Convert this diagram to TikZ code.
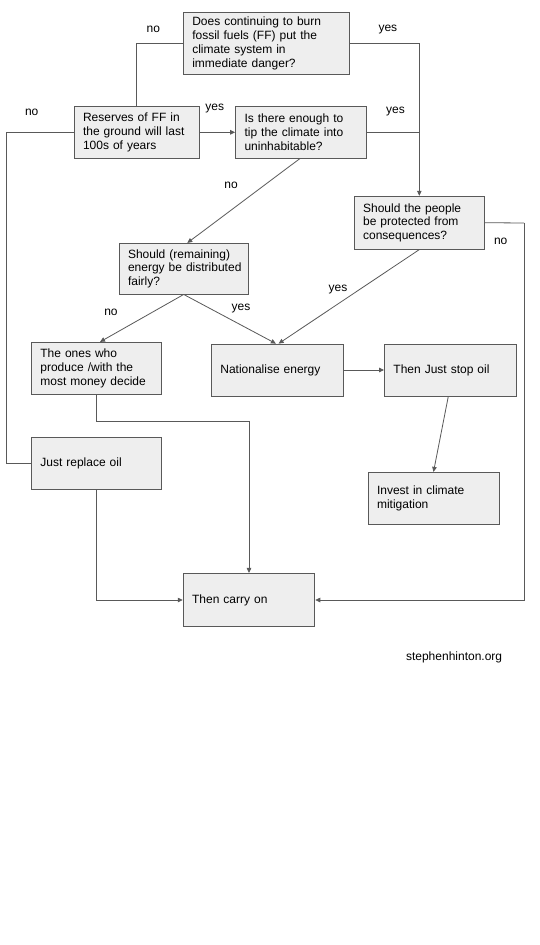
\documentclass[tikz,border=0pt]{standalone}
\usepackage{fontspec}
\setmainfont{Liberation Sans}
\usetikzlibrary{arrows.meta,calc}
\definecolor{boxfill}{HTML}{EEEEEE}
\definecolor{edgec}{HTML}{595959}
\definecolor{txtc}{HTML}{000000}
\begin{document}
\begin{tikzpicture}[x=1pt,y=-1pt,
  box/.style={draw=edgec, fill=boxfill, line width=0.8pt, align=left, inner xsep=9pt, inner ysep=0pt, text=txtc, font=\fontsize{12}{13.8}\selectfont, execute at begin node={\hyphenpenalty=10000\exhyphenpenalty=10000}},
  lbl/.style={font=\fontsize{12}{13.8}\selectfont, inner sep=0pt, text=txtc},
  conn/.style={draw=edgec, line width=0.8pt},
  arr/.style={conn, -{Triangle[length=5pt,width=4.5pt]}}]
\fill[white] (0,0) rectangle (540,945);
\useasboundingbox (0,0) rectangle (540,945);

% boxes
\node[box, minimum width=166pt, minimum height=62.7pt, text width=148pt] (q1) at (266.3,43.5)
  {Does continuing to burn\\fossil fuels (FF) put the\\climate system in\\immediate danger?};
\node[box, minimum width=125.3pt, minimum height=52.6pt, text width=107.3pt] (res) at (136.7,132.3)
  {Reserves of FF in\\the ground will last\\100s of years};
\node[box, minimum width=130.7pt, minimum height=51.6pt, text width=112.7pt] (tip) at (300.9,132.3)
  {Is there enough to\\tip the climate into\\uninhabitable?};
\node[box, minimum width=130.4pt, minimum height=53pt, text width=112.4pt] (prot) at (419.3,222.7)
  {Should the people\\be protected from\\consequences?};
\node[box, minimum width=129.3pt, minimum height=50.7pt, text width=111.3pt] (fair) at (183.7,268.7)
  {Should (remaining)\\\mbox{energy be distributed}\\fairly?};
\node[box, minimum width=130pt, minimum height=52pt, text width=112pt] (ones) at (96.4,368.3)
  {The ones who\\produce /with the\\most money decide};
\node[box, minimum width=131.7pt, minimum height=52pt, text width=113.7pt] (nat) at (277.2,370)
  {Nationalise energy};
\node[box, minimum width=131.7pt, minimum height=52pt, text width=113.7pt] (stop) at (450.3,370)
  {Then Just stop oil};
\node[box, minimum width=130pt, minimum height=52pt, text width=112pt] (repl) at (96.4,463.3)
  {Just replace oil};
\node[box, minimum width=131pt, minimum height=52pt, text width=113pt] (inv) at (433.5,498.3)
  {Invest in climate\\mitigation};
\node[box, minimum width=131.7pt, minimum height=53.3pt, text width=113.7pt] (carry) at (249,600)
  {Then carry on};

% helper coordinates
\coordinate (leftx) at (6.7,132.3);
\coordinate (rightx) at (524,223);
\coordinate (onesbend) at (96.4,421.3);

% connectors
\draw[conn] (q1.west) -| (res.north);
\draw[arr] (q1.east) -| (prot.north);
\draw[arr] (res.east) -- (tip.west);
\draw[conn] (res.west) -- (leftx) |- (repl.west);
\draw[conn] (tip.east) -- (prot.north |- tip.east);
\draw[arr] ([xshift=-0.9pt]tip.south) -- ([xshift=3.6pt]fair.north);
\draw[arr] (prot.south) -- ([xshift=1.4pt]nat.north);
\draw[arr] (fair.south) -- ([xshift=-1.3pt]nat.north);
\draw[arr] (fair.south) -- ([xshift=3.6pt]ones.north);
\draw[conn] (prot.east) -- (rightx);
\draw[arr] (rightx) |- (carry.east);
\draw[arr] (nat.east) -- (stop.west);
\draw[arr] ([xshift=-2pt]stop.south) -- (inv.north);
\draw[arr] (ones.south) -- (onesbend) -| (carry.north);
\draw[arr] (repl.south) |- (carry.west);

% labels
\node[lbl] (l1) at (153.4,29.3) {no};
\node[lbl] (l2) at (387.9,29.3) {yes};
\node[lbl] (l3) at (31.7,112.7) {no};
\node[lbl] (l4) at (214.8,108.7) {yes};
\node[lbl] (l5) at (395.5,111.7) {yes};
\node[lbl] (l6) at (231,185) {no};
\node[lbl] (l7) at (500.7,241) {no};
\node[lbl] (l8) at (338,289.3) {yes};
\node[lbl] (l9) at (111,312.7) {no};
\node[lbl] (l10) at (241,308.3) {yes};
\node[lbl] (wm) at (454.1,657) {stephenhinton.org};
\end{tikzpicture}
\end{document}
